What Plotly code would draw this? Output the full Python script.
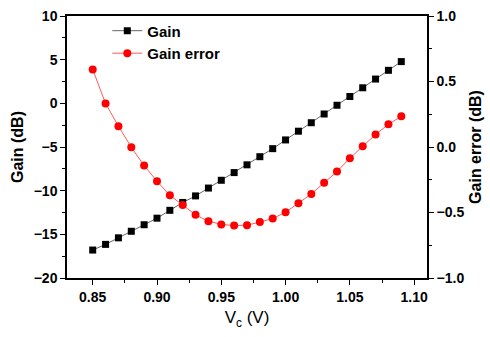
import plotly.graph_objects as go

# Control voltage sweep (V)
vc = [0.85, 0.86, 0.87, 0.88, 0.89, 0.90, 0.91, 0.92, 0.93, 0.94, 0.95, 0.96, 0.97,
      0.98, 0.99, 1.00, 1.01, 1.02, 1.03, 1.04, 1.05, 1.06, 1.07, 1.08, 1.09]

# Measured gain (dB)
gain = [-16.8, -16.15, -15.4, -14.65, -13.9, -13.15, -12.25, -11.35, -10.6, -9.7,
        -8.81, -7.93, -7.04, -6.11, -5.19, -4.19, -3.19, -2.22, -1.22, -0.22,
        0.78, 1.78, 2.78, 3.78, 4.78]

# Gain error relative to ideal dB-linear law (dB)
gain_error = [0.592, 0.332, 0.159, -0.002, -0.142, -0.261, -0.369, -0.443, -0.518,
              -0.566, -0.591, -0.600, -0.597, -0.573, -0.546, -0.498, -0.43, -0.359,
              -0.273, -0.187, -0.086, 0.006, 0.096, 0.173, 0.234]

FONT = "Liberation Sans, Arial, sans-serif"
tick_font = dict(family=FONT, size=14, color="black", weight="bold")
title_font = dict(family=FONT, size=16, color="black", weight="bold")

fig = go.Figure()
fig.add_trace(go.Scatter(
    x=vc, y=gain, name="Gain", mode="lines+markers",
    line=dict(color="#666666", width=1),
    marker=dict(symbol="square", size=7, color="black"),
))
fig.add_trace(go.Scatter(
    x=vc, y=gain_error, name="Gain error", mode="lines+markers", yaxis="y2",
    line=dict(color="#ff5a5a", width=1),
    marker=dict(symbol="circle", size=8, color="#ff0000"),
))

axis_common = dict(
    showgrid=False, zeroline=False, showline=True, linecolor="black", linewidth=1.5,
    ticks="outside", ticklen=5, tickwidth=1.2, tickcolor="black",
    tickfont=tick_font,
)

fig.update_layout(
    width=490, height=337,
    margin=dict(l=67, r=60, t=8, b=59),
    paper_bgcolor="white", plot_bgcolor="white",
    showlegend=True,
    legend=dict(x=0.112, y=1.006, xanchor="left", yanchor="top",
                font=dict(family=FONT, size=15, color="black", weight="bold"),
                bgcolor="rgba(0,0,0,0)", itemwidth=30, tracegroupgap=0),
    xaxis=dict(
        axis_common, range=[0.83, 1.11], tickmode="linear", tick0=0.85, dtick=0.05,
        tickformat=".2f", mirror=True,
        minor=dict(ticks="outside", dtick=0.025, tick0=0.825, ticklen=3, tickcolor="black"),
        title=dict(text="V<sub>c</sub> (V)", font=dict(family=FONT, size=17, color="black"),
                   standoff=8),
    ),
    yaxis=dict(
        axis_common, range=[-20, 10], tickmode="linear", tick0=-20, dtick=5,
        minor=dict(ticks="outside", dtick=2.5, ticklen=3, tickcolor="black"),
        title=dict(text="Gain (dB)", font=title_font, standoff=6),
    ),
    yaxis2=dict(
        axis_common, range=[-1, 1], tickmode="linear", tick0=-1, dtick=0.5,
        tickformat=".1f", overlaying="y", side="right",
        minor=dict(ticks="outside", dtick=0.25, ticklen=3, tickcolor="black"),
        title=dict(text="Gain error (dB)", font=title_font, standoff=6),
    ),
)

fig.write_html("out.html")
